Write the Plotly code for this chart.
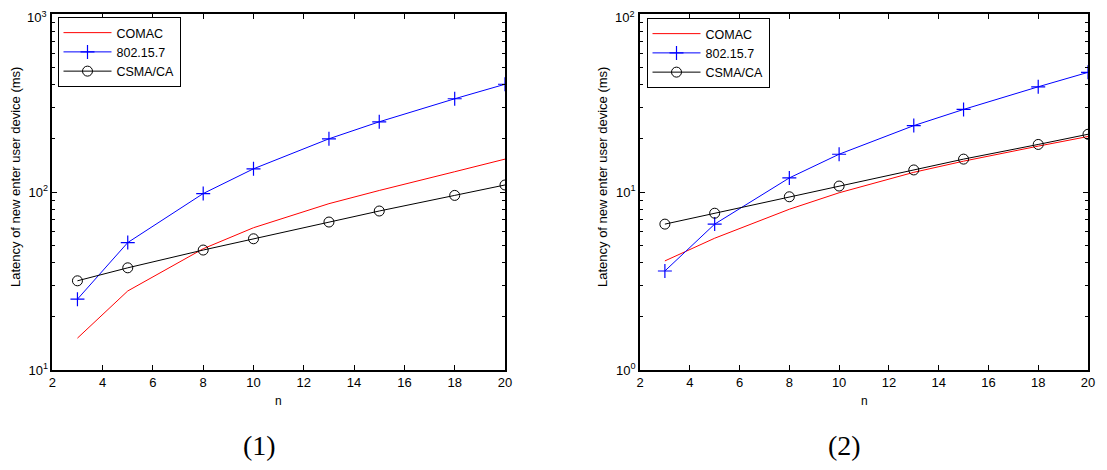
import plotly.graph_objects as go

n = [3, 5, 8, 10, 13, 15, 18, 20]

# Plot (1)
comac_1 = [15.1, 27.8, 48, 63, 86, 102, 130, 153]
ieee_1 = [25, 52, 98, 135, 199, 248, 334, 403]
csma_1 = [31.7, 37.5, 47.2, 54.6, 67.8, 78.2, 95.7, 109.5]

# Plot (2)
comac_2 = [4.1, 5.5, 8.0, 9.9, 12.9, 14.9, 18.1, 20.5]
ieee_2 = [3.6, 6.6, 12.0, 16.3, 23.6, 29.1, 39.0, 47.0]
csma_2 = [6.6, 7.6, 9.4, 10.8, 13.3, 15.3, 18.5, 21.1]

names = ["COMAC", "802.15.7", "CSMA/CA"]
captions = ["(1)", "(2)"]
ytitle = "Latency of new enter user device (ms)"
xtitle = "n"

FONT = "Liberation Sans, Arial, sans-serif"

# page has an 8px body margin; size the figure to fit the 1107x470 window
OFF = 8
W, H = 1107 - 2 * OFF, 470 - 2 * OFF

def px(x):
    return (x - OFF) / W

def py(y):
    return 1 - (y - OFF) / H

fig = go.Figure()

def add_traces(xa, ya, comac, ieee, csma, legend):
    fig.add_trace(go.Scatter(x=n, y=comac, name=names[0], mode="lines",
                             line=dict(color="#ff0000", width=1),
                             xaxis=xa, yaxis=ya, legend=legend))
    fig.add_trace(go.Scatter(x=n, y=ieee, name=names[1], mode="lines+markers",
                             line=dict(color="#0000ff", width=1),
                             marker=dict(symbol="cross-thin", size=10,
                                         line=dict(color="#0000ff", width=1.2)),
                             xaxis=xa, yaxis=ya, legend=legend))
    fig.add_trace(go.Scatter(x=n, y=csma, name=names[2], mode="lines+markers",
                             line=dict(color="#000000", width=1),
                             marker=dict(symbol="circle-open", size=10,
                                         line=dict(color="#000000", width=1)),
                             xaxis=xa, yaxis=ya, legend=legend))

add_traces("x", "y", comac_1, ieee_1, csma_1, "legend")
add_traces("x2", "y2", comac_2, ieee_2, csma_2, "legend2")

top, bot = 14, 370
yd = [py(bot), py(top)]
xd1 = [px(52.3), px(505)]
xd2 = [px(640), px(1088)]

xcommon = dict(range=[2, 20], dtick=2, tick0=2, ticks="inside", ticklen=5,
               mirror="allticks", showline=True, linecolor="black", linewidth=1.5,
               tickcolor="black", showgrid=False, zeroline=False, automargin=False,
               tickfont=dict(family=FONT, size=13, color="black"))

def ycommon(lo, hi):
    vals = [10 ** k for k in range(lo, hi + 1)]
    # top decade label is drawn as an annotation (it sits on the paper edge)
    txt = ["10<sup>%d</sup>" % k for k in range(lo, hi)] + [""]
    minors = [m * 10 ** k for k in range(lo, hi) for m in range(2, 10)]
    return dict(type="log", range=[lo, hi], tickmode="array", tickvals=vals, ticktext=txt,
                ticks="inside", ticklen=5, mirror="allticks", showline=True,
                linecolor="black", linewidth=1.5, tickcolor="black",
                showgrid=False, zeroline=False, automargin=False,
                minor=dict(tickmode="array", tickvals=minors, ticks="inside",
                           ticklen=3, tickcolor="black", tickwidth=1, showgrid=False),
                tickfont=dict(family=FONT, size=13, color="black"))

legend_common = dict(bgcolor="white", bordercolor="black", borderwidth=1,
                     font=dict(family=FONT, size=12.5, color="black"),
                     xanchor="left", yanchor="top", tracegroupgap=0,
                     itemwidth=48)

fig.update_layout(
    width=W, height=H,
    margin=dict(l=0, r=0, t=0, b=0),
    paper_bgcolor="white", plot_bgcolor="white",
    showlegend=True,
    xaxis=dict(domain=xd1, anchor="y", **xcommon),
    yaxis=dict(domain=yd, anchor="x", **ycommon(1, 3)),
    xaxis2=dict(domain=xd2, anchor="y2", **xcommon),
    yaxis2=dict(domain=yd, anchor="x2", **ycommon(0, 2)),
    legend=dict(x=px(57.5), y=py(17), **legend_common),
    legend2=dict(x=px(646.5), y=py(18), **legend_common),
)

top_exp = [3, 2]
for xd, cap, capx, ytx, te in zip([xd1, xd2], captions, [259, 844], [15, 602], top_exp):
    cx = (xd[0] + xd[1]) / 2
    fig.add_annotation(text=cap, x=px(capx), y=0,
                       xref="paper", yref="paper", showarrow=False,
                       xanchor="center", yanchor="bottom", borderpad=0,
                       font=dict(family="Liberation Serif, DejaVu Serif, serif",
                                 size=28, color="black"))
    fig.add_annotation(text=xtitle, x=cx, y=py(401),
                       xref="paper", yref="paper", showarrow=False,
                       xanchor="center", yanchor="middle",
                       font=dict(family=FONT, size=12, color="black"))
    fig.add_annotation(text=ytitle, x=px(ytx), y=py(177),
                       xref="paper", yref="paper", showarrow=False, textangle=-90,
                       xanchor="center", yanchor="middle",
                       font=dict(family=FONT, size=13, color="black"))
    fig.add_annotation(text="10<sup>%d</sup>" % te, x=xd[0] - 4 / W, y=1,
                       xref="paper", yref="paper", showarrow=False,
                       xanchor="right", yanchor="top", borderpad=0,
                       font=dict(family=FONT, size=13, color="black"))

fig.write_html("out.html")
